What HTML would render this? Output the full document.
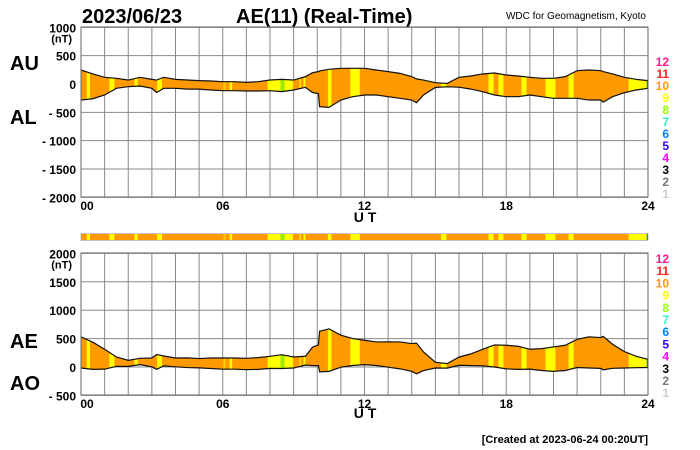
<!DOCTYPE html>
<html><head><meta charset="utf-8"><style>
body{margin:0;background:#fff;}
svg{display:block;font-family:"Liberation Sans",sans-serif;}
</style></head><body>
<svg id="c" width="700" height="450" xmlns="http://www.w3.org/2000/svg">
<text x="82" y="23" font-size="20" font-weight="bold">2023/06/23</text>
<text x="236" y="23" font-size="20" font-weight="bold">AE(11) (Real-Time)</text>
<text x="646" y="19" font-size="10" text-anchor="end">WDC for Geomagnetism, Kyoto</text>
<text x="10" y="70" font-size="20" font-weight="bold">AU</text>
<text x="10" y="124" font-size="20" font-weight="bold">AL</text>
<text x="10" y="348" font-size="20" font-weight="bold">AE</text>
<text x="10" y="390" font-size="20" font-weight="bold">AO</text>
<text x="365" y="222" font-size="14" font-weight="bold" text-anchor="middle">U T</text>
<text x="365" y="418" font-size="14" font-weight="bold" text-anchor="middle">U T</text>
<text x="648" y="443" font-size="11" font-weight="bold" text-anchor="end">[Created at 2023-06-24 00:20UT]</text>
<g id="g"></g>
</svg>
<script>
const hours=[0,0.5,1,1.5,2,2.5,3,3.2,3.5,4,4.5,5,5.5,6,6.5,7,7.5,8,8.5,9,9.5,9.8,10.05,10.1,10.5,11,11.5,12,12.5,13,13.5,14,14.2,14.5,15,15.5,16,16.5,17,17.5,18,18.5,19,19.5,20,20.5,21,21.5,22,22.1,22.5,23,23.5,24];
const au=[247,177,118,100,70,118,82,70,118,82,70,59,53,41,41,29,41,70,82,70,130,200,218,230,259,277,277,277,247,218,188,130,90,70,23,10,118,141,177,194,159,141,118,100,100,130,235,247,235,220,177,118,82,59];
const al=[-283,-260,-194,-76,-47,-35,-76,-150,-76,-76,-90,-90,-106,-118,-118,-124,-124,-118,-135,-106,-59,-150,-170,-400,-412,-283,-224,-194,-194,-224,-253,-283,-330,-194,-59,-50,-56,-90,-135,-194,-224,-224,-194,-224,-253,-253,-253,-283,-283,-320,-224,-153,-106,-76];
const segStart=[0.24,1.2,2.26,3.22,6.03,6.29,7.9,8.45,8.62,9.25,9.42,10.45,11.4,15.24,17.25,17.67,18.64,19.66,20.64,23.18,23.95];
const segEnd=[0.38,1.41,2.4,3.43,6.12,6.4,8.45,8.62,8.97,9.3,9.5,10.6,11.8,15.47,17.46,17.88,18.86,20.08,20.85,23.95,24];
const segColor=["#ffff00","#ffff00","#ffff00","#ffff00","#ffcc00","#ffff00","#ffff00","#99ee00","#ffff00","#ffff00","#ffff00","#ffff00","#ffff00","#ffff00","#ffff00","#ffff00","#ffff00","#ffff00","#ffff00","#ffff00","#0066ff"];
const topTicks=[1000,500,0,-500,-1000,-1500,-2000];
const topTickLabels=["1000","500","0","- 500","- 1000","- 1500","- 2000"];
const botTicks=[2000,1500,1000,500,0,-500];
const botTickLabels=["2000","1500","1000","500","0","- 500"];
const xTicks=[0,6,12,18,24];
const xTickLabels=["00","06","12","18","24"];
const legendNums=["12","11","10","9","8","7","6","5","4","3","2","1"];
const legendColors=["#ff1a8c","#ff2020","#ff9900","#ffff00","#99ff00","#33eecc","#0080ff","#3300ff","#ff00ff","#000000","#777777","#cccccc"];

const NS="http://www.w3.org/2000/svg";
const G=document.getElementById('g');
function mk(t,a,p){const e=document.createElementNS(NS,t);for(const k in a)e.setAttribute(k,a[k]);(p||G).appendChild(e);return e;}
const X=h=>81+h*567/24;
const Y1=v=>84-v*28.33/500;
const Y2=v=>367-v*28.4/500;
const ae=au.map((u,i)=>u-al[i]);
const ao=au.map((u,i)=>(u+al[i])/2);

function panel(name,Y,top,bottom,ticks,labels,upper,lower,legendTop,legendStep){
  const bg=mk('rect',{x:81,y:top,width:567,height:bottom-top,fill:'#fff'});
  
  
  for(let h=1;h<24;h++){
    const l=mk('line',{x1:X(h),x2:X(h),y1:top,y2:bottom,stroke:'#888','stroke-width':1});
    
    
  }
  ticks.forEach((v,i)=>{
    const l=mk('line',{x1:81,x2:648,y1:Y(v),y2:Y(v),stroke:'#888','stroke-width':1});
    
    
    const t=mk('text',{x:76,y:Y(v)+5,'font-size':12,'font-weight':'bold','text-anchor':'end'});
    t.textContent=labels[i];
    
    
  });
  const nt=mk('text',{x:72,y:Y(ticks[0])+15,'font-size':11,'font-weight':'bold','text-anchor':'end'});
  nt.textContent='(nT)';
  
  
  // band
  let pts=hours.map((h,i)=>X(h)+','+Y(upper[i]));
  for(let i=hours.length-1;i>=0;i--)pts.push(X(hours[i])+','+Y(lower[i]));
  const cp=mk('clipPath',{id:name+'-clip'});
  mk('polygon',{points:pts.join(' ')},cp);
  const bg2=mk('g',{'clip-path':'url(#'+name+'-clip)'});
  
  
  mk('rect',{x:81,y:top,width:567,height:bottom-top,fill:'#ff9900'},bg2);
  segStart.forEach((s,i)=>{
    const r=mk('rect',{x:X(s),y:top,width:X(segEnd[i])-X(s),height:bottom-top,fill:segColor[i]},bg2);
    
    
  });
  const l1=mk('polyline',{points:hours.map((h,i)=>X(h)+','+Y(upper[i])).join(' '),fill:'none',stroke:'#111','stroke-width':1.2});
  
  
  const l2=mk('polyline',{points:hours.map((h,i)=>X(h)+','+Y(lower[i])).join(' '),fill:'none',stroke:'#111','stroke-width':1.2});
  
  
  const fr=mk('rect',{x:81,y:top,width:567,height:bottom-top,fill:'none',stroke:'#666','stroke-width':1});
  
  
  xTicks.forEach((h,i)=>{
    const t=mk('text',{x:X(h)+(i==0?6:0),y:bottom+13,'font-size':12,'font-weight':'bold','text-anchor':'middle'});
    t.textContent=xTickLabels[i];
    
    
  });
  legendNums.forEach((n,i)=>{
    const t=mk('text',{x:669,y:legendTop+i*legendStep+5,'font-size':12,'font-weight':'bold','text-anchor':'end',fill:legendColors[i]});
    t.textContent=n;
    
    
  });
}
panel('top',Y1,27,197,topTicks,topTickLabels,au,al,61,12.0);
panel('bottom',Y2,253,395,botTicks,botTickLabels,ae,ao,258,12.2);

// station count color bar
const cb=mk('g',{});


mk('rect',{x:81,y:234,width:567,height:6,fill:'#ff9900'},cb);
segStart.forEach((s,i)=>{
  const r=mk('rect',{x:X(s),y:234,width:X(segEnd[i])-X(s),height:6,fill:segColor[i]},cb);
  
  
});
mk('rect',{x:81,y:233.5,width:567,height:7,fill:'none',stroke:'#999','stroke-width':0.6},cb);
</script>
</body></html>
